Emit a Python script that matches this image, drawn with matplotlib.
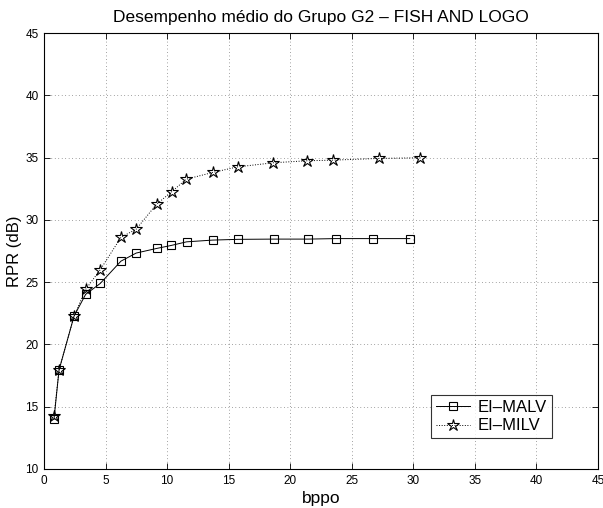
import numpy as np
import matplotlib
matplotlib.use("Agg")
import matplotlib.pyplot as plt

plt.rcParams["font.family"] = ["Liberation Sans", "DejaVu Sans"]

# EI-MALV (squares, solid)
malv_x = [0.81, 1.22, 2.44, 3.38, 4.57, 6.25, 7.49, 9.15, 10.33, 11.58,
          13.69, 15.75, 18.67, 21.45, 23.68, 26.76, 29.71]
malv_y = [14.0, 17.95, 22.28, 24.02, 24.9, 26.69, 27.34, 27.71, 27.95, 28.24,
          28.38, 28.44, 28.46, 28.46, 28.5, 28.5, 28.5]

# EI-MILV (stars, dotted)
milv_x = [0.81, 1.22, 2.44, 3.38, 4.57, 6.25, 7.49, 9.15, 10.37, 11.55,
          13.7, 15.72, 18.64, 21.35, 23.46, 27.25, 30.58]
milv_y = [14.25, 17.95, 22.28, 24.42, 26.0, 28.6, 29.26, 31.27, 32.26, 33.27,
          33.81, 34.26, 34.59, 34.75, 34.8, 34.94, 34.99]

title = "Desempenho médio do Grupo G2 \u2013 FISH AND LOGO"
xticks = np.arange(0, 46, 5)
yticks = np.arange(10, 46, 5)

fig = plt.figure(figsize=(6.03, 5.08), dpi=100)
ax = fig.add_axes([0.073, 0.0768, 0.9187, 0.858])

ax.plot(malv_x, malv_y, "-", color="black", linewidth=0.7,
        marker="s", markersize=6, markerfacecolor="none",
        markeredgewidth=0.8, label="EI\u2013MALV")
ax.plot(milv_x, milv_y, ":", color="black", linewidth=0.7,
        marker="*", markersize=9, markerfacecolor="none",
        markeredgewidth=0.8, label="EI\u2013MILV")

ax.set_xlim(0, 45)
ax.set_ylim(10, 45)
ax.set_xticks(xticks)
ax.set_yticks(yticks)
ax.tick_params(direction="in", top=True, right=True, labelsize=8.5,
               length=4, width=0.6, pad=4)
for s in ax.spines.values():
    s.set_linewidth(0.8)
ax.grid(True, linestyle=(0, (1, 4)), color="black", linewidth=0.5, alpha=0.7)

ax.set_xlabel("bppo", fontsize=12.5, labelpad=3)
ax.set_ylabel("RPR (dB)", fontsize=12, labelpad=2)
ax.set_title(title, fontsize=12.5, pad=8)

leg = ax.legend(loc="lower left", bbox_to_anchor=(0.699, 0.07, 0.207, 0.1),
                fontsize=12, frameon=True, fancybox=False, edgecolor="black",
                borderpad=0.3, labelspacing=0.2, handlelength=2.0,
                handletextpad=0.5, borderaxespad=0)
leg.get_frame().set_linewidth(0.8)

fig.savefig("out.png", dpi=100)
